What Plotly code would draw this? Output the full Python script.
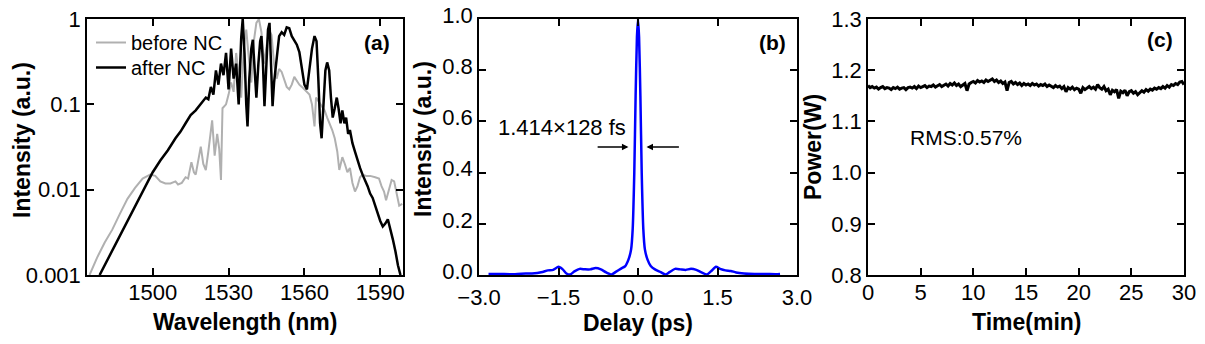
import plotly.graph_objects as go

# ---------------- Panel (a): spectra ----------------
wl_before = [1475, 1478, 1481, 1484, 1487, 1490, 1493, 1496, 1499, 1501, 1503, 1505, 1507, 1509,
             1510, 1511.5, 1513, 1514, 1515.3, 1516.3, 1517, 1518, 1519, 1520, 1521, 1522, 1523.5,
             1524.5, 1525.5, 1526.3, 1527, 1527.6, 1529, 1530, 1531, 1532, 1533, 1534, 1535, 1536,
             1537, 1538, 1539, 1540, 1541, 1542, 1543, 1544, 1545, 1546, 1547, 1548, 1549, 1550,
             1551, 1552, 1553, 1554, 1555, 1556, 1557, 1558, 1559, 1560, 1561, 1562, 1563, 1564,
             1564.6, 1565.5, 1567, 1568, 1569, 1570, 1571, 1572, 1573, 1573.8, 1575, 1576, 1577,
             1578, 1579, 1580, 1581, 1582, 1583, 1584.5, 1586, 1588, 1589.5, 1590.5, 1591.5, 1592.3,
             1593.5, 1594.5, 1595.5, 1596.5, 1597.5, 1598.7]
int_before = [0.001, 0.0016, 0.0024, 0.0034, 0.0052, 0.0078, 0.0105, 0.0135, 0.015, 0.0145, 0.0125,
              0.0118, 0.0118, 0.0125, 0.0115, 0.012, 0.014, 0.0135, 0.021, 0.016, 0.015, 0.022, 0.032,
              0.020, 0.017, 0.028, 0.065, 0.025, 0.045, 0.030, 0.013, 0.09, 0.10, 0.13, 0.18, 0.14,
              0.40, 0.22, 0.12, 0.45, 0.75, 0.35, 0.18, 0.55, 0.90, 1.0, 0.70, 0.30, 0.45, 0.75, 0.65,
              0.30, 0.20, 0.26, 0.24, 0.19, 0.16, 0.15, 0.17, 0.21, 0.19, 0.17, 0.16, 0.15, 0.14, 0.13,
              0.10, 0.055, 0.12, 0.11, 0.095, 0.085, 0.07, 0.06, 0.05, 0.04, 0.028, 0.017, 0.024,
              0.020, 0.016, 0.018, 0.012, 0.0095, 0.011, 0.014, 0.015, 0.0145, 0.0145, 0.014, 0.0135,
              0.011, 0.0095, 0.0075, 0.010, 0.013, 0.0125, 0.009, 0.0065, 0.0068]

wl_after = [1479, 1482, 1486, 1490, 1494, 1498, 1500, 1503, 1506, 1509, 1511, 1513, 1515, 1517,
            1519, 1521, 1522, 1523, 1524, 1525, 1526, 1527, 1528, 1529, 1530, 1531, 1532, 1533,
            1534, 1535, 1535.6, 1536.3, 1537, 1537.5, 1538.2, 1539, 1539.6, 1540.3, 1541, 1541.8,
            1542.5, 1543, 1543.6, 1544.2, 1545, 1545.6, 1546.2, 1546.8, 1547.4, 1548, 1549, 1550,
            1551, 1552, 1553, 1554, 1555, 1556, 1557, 1558, 1559, 1560, 1561, 1562, 1563, 1564,
            1564.8, 1565.5, 1566.2, 1566.8, 1567.5, 1568.3, 1569, 1569.8, 1570.5, 1571.2, 1572,
            1572.8, 1573.5, 1574.3, 1575, 1575.8, 1576.5, 1577.3, 1578, 1579, 1580, 1581, 1582,
            1583, 1584, 1585, 1586, 1587, 1588, 1589, 1590, 1591, 1592, 1593, 1594, 1595, 1596,
            1597, 1598]
int_after = [0.001, 0.00148, 0.0026, 0.0043, 0.0072, 0.0125, 0.016, 0.022, 0.029, 0.040, 0.048,
             0.060, 0.075, 0.085, 0.10, 0.12, 0.115, 0.16, 0.13, 0.25, 0.17, 0.30, 0.22, 0.40, 0.15,
             0.45, 0.20, 0.30, 0.10, 0.60, 1.0, 0.40, 0.10, 0.055, 0.20, 0.45, 0.57, 0.25, 0.12,
             0.30, 0.55, 0.63, 0.30, 0.095, 0.35, 0.75, 0.90, 0.35, 0.095, 0.18, 0.36, 0.63, 0.70,
             0.65, 0.80, 0.78, 0.63, 0.55, 0.50, 0.41, 0.25, 0.17, 0.15, 0.25, 0.45, 0.63, 0.55,
             0.20, 0.06, 0.04, 0.10, 0.25, 0.31, 0.25, 0.12, 0.07, 0.09, 0.12, 0.09, 0.06, 0.085,
             0.06, 0.07, 0.045, 0.05, 0.035, 0.028, 0.022, 0.018, 0.015, 0.013, 0.011, 0.009, 0.008,
             0.0065, 0.0052, 0.0043, 0.0037, 0.0040, 0.0045, 0.0035, 0.0026, 0.0019, 0.0013, 0.001]

# ---------------- Panel (b): autocorrelation ----------------
delay_ps = [-2.82, -2.6, -2.4, -2.2, -2.0, -1.9, -1.8, -1.7, -1.6, -1.5, -1.42, -1.35, -1.28, -1.2,
            -1.1, -1.0, -0.9, -0.8, -0.7, -0.6, -0.5, -0.42, -0.32, -0.24, -0.18, -0.13, -0.10,
            -0.07, -0.045, -0.02, 0.0, 0.02, 0.045, 0.07, 0.10, 0.13, 0.18, 0.24, 0.32, 0.42, 0.52,
            0.6, 0.7, 0.8, 0.9, 1.0, 1.1, 1.2, 1.3, 1.38, 1.47, 1.55, 1.65, 1.75, 1.85, 2.0, 2.2,
            2.4, 2.6, 2.68]
ac_int = [0.004, 0.004, 0.003, 0.005, 0.006, 0.008, 0.012, 0.018, 0.02, 0.032, 0.022, 0.006, 0.002,
          0.014, 0.024, 0.022, 0.022, 0.027, 0.022, 0.01, 0.002, 0.012, 0.025, 0.035, 0.06, 0.10,
          0.18, 0.40, 0.70, 0.93, 1.0, 0.93, 0.70, 0.40, 0.18, 0.10, 0.06, 0.035, 0.022, 0.012,
          0.002, 0.012, 0.024, 0.022, 0.02, 0.024, 0.02, 0.01, 0.002, 0.015, 0.032, 0.024, 0.018,
          0.016, 0.01, 0.006, 0.004, 0.004, 0.003, 0.004]

# ---------------- Panel (c): power stability ----------------
power_w = [1.170, 1.166, 1.168, 1.165, 1.167, 1.163, 1.166, 1.168, 1.164, 1.166,
           1.165, 1.162, 1.166, 1.164, 1.167, 1.163, 1.165, 1.166, 1.162, 1.166,
           1.167, 1.165, 1.168, 1.164, 1.169, 1.166, 1.168, 1.170, 1.166, 1.169,
           1.168, 1.171, 1.167, 1.170, 1.172, 1.168, 1.171, 1.173, 1.169, 1.174,
           1.171, 1.175, 1.170, 1.173, 1.168, 1.172, 1.174, 1.160, 1.173, 1.176,
           1.178, 1.175, 1.180, 1.177, 1.179, 1.176, 1.181, 1.178, 1.180, 1.183,
           1.178, 1.181, 1.176, 1.179, 1.174, 1.177, 1.160, 1.176, 1.178, 1.173,
           1.176, 1.172, 1.175, 1.170, 1.174, 1.171, 1.173, 1.170, 1.174, 1.171,
           1.173, 1.169, 1.172, 1.170, 1.173, 1.168, 1.171, 1.169, 1.166, 1.170,
           1.167, 1.169, 1.164, 1.168, 1.158, 1.166, 1.163, 1.167, 1.162, 1.165,
           1.163, 1.155, 1.166, 1.162, 1.165, 1.168, 1.164, 1.167, 1.163, 1.172,
           1.166, 1.163, 1.168, 1.160, 1.163, 1.152, 1.161, 1.158, 1.162, 1.145,
           1.159, 1.156, 1.161, 1.150, 1.158, 1.160, 1.155, 1.158, 1.152, 1.157,
           1.160, 1.157, 1.162, 1.159, 1.163, 1.161, 1.165, 1.163, 1.166, 1.164,
           1.168, 1.165, 1.170, 1.167, 1.172, 1.170, 1.174, 1.172, 1.177, 1.178,
           1.172]
time_min = [round(i * 0.2, 1) for i in range(len(power_w))]

# tick definitions
a_xticks = [1500, 1530, 1560, 1590]
a_yticks = [0.001, 0.01, 0.1, 1]
a_yticktext = ["0.001", "0.01", "0.1", "1"]
b_xticks = [-3.0, -1.5, 0.0, 1.5, 3.0]
b_yticks = [0.0, 0.2, 0.4, 0.6, 0.8, 1.0]
c_xticks = [0, 5, 10, 15, 20, 25, 30]
c_yticks = [0.8, 0.9, 1.0, 1.1, 1.2, 1.3]

FONT = "Liberation Sans, Arial, sans-serif"
TICKFONT = dict(family=FONT, size=22, color="black")

fig = go.Figure()
fig.add_trace(go.Scatter(x=wl_before, y=int_before, mode="lines", name="before NC",
                         line=dict(color="#b0b0b0", width=2), xaxis="x", yaxis="y",
                         legend="legend"))
fig.add_trace(go.Scatter(x=wl_after, y=int_after, mode="lines", name="after NC",
                         line=dict(color="black", width=2.5), xaxis="x", yaxis="y",
                         legend="legend2"))
fig.add_trace(go.Scatter(x=delay_ps, y=ac_int, mode="lines", showlegend=False,
                         line=dict(color="#0000ff", width=2.5, shape="spline", smoothing=0.6),
                         xaxis="x2", yaxis="y2"))
fig.add_trace(go.Scatter(x=time_min, y=power_w, mode="lines", showlegend=False,
                         line=dict(color="black", width=3), xaxis="x3", yaxis="y3"))

ydom = [1 - 275 / 344, 1 - 19 / 344]
common = dict(showline=True, linecolor="black", linewidth=1.5, mirror="ticks", ticks="inside",
              ticklen=7, tickwidth=1.5, tickcolor="black", showgrid=False, zeroline=False,
              tickfont=TICKFONT, automargin=False)
LEGFONT = dict(family=FONT, size=20, color="black")

fig.update_layout(
    width=1205, height=344,
    margin=dict(l=0, r=0, t=0, b=0),
    paper_bgcolor="white", plot_bgcolor="white",
    font=dict(family=FONT, color="black"),
    xaxis=dict(domain=[87 / 1205, 403 / 1205], range=[1474, 1599], tickvals=a_xticks,
               anchor="y", ticklabelstandoff=-3, **common),
    yaxis=dict(domain=ydom, type="log", range=[-3, 0], tickvals=a_yticks, ticktext=a_yticktext,
               anchor="x", **common),
    xaxis2=dict(domain=[479 / 1205, 797 / 1205], range=[-3, 3], tickvals=b_xticks,
                tickformat=".1f", anchor="y2", ticklabelstandoff=2, **common),
    yaxis2=dict(domain=ydom, range=[0, 1], tickvals=b_yticks, tickformat=".1f", anchor="x2",
                ticklabelshift=-4, **common),
    xaxis3=dict(domain=[868 / 1205, 1184 / 1205], range=[0, 30], tickvals=c_xticks,
                anchor="y3", ticklabelstandoff=-3, **common),
    yaxis3=dict(domain=ydom, range=[0.8, 1.3], tickvals=c_yticks, tickformat=".1f",
                anchor="x3", **common),
    legend=dict(x=91 / 1205, y=1 - 23 / 344, xanchor="left", yanchor="top",
                bgcolor="rgba(0,0,0,0)", font=LEGFONT),
    legend2=dict(x=91 / 1205, y=1 - 48 / 344, xanchor="left", yanchor="top",
                 bgcolor="rgba(0,0,0,0)", font=LEGFONT),
)

BOLD = dict(family=FONT, size=23, color="black")
PANEL = dict(family=FONT, size=21, color="black")
annots = [
    dict(text="<b>Wavelength (nm)</b>", x=245 / 1205, y=1 - 322 / 344, font=BOLD),
    dict(text="<b>Delay (ps)</b>", x=638 / 1205, y=1 - 323 / 344, font=BOLD),
    dict(text="<b>Time(min)</b>", x=1026 / 1205, y=1 - 322 / 344, font=BOLD),
    dict(text="<b>Intensity (a.u.)</b>", x=22 / 1205, y=1 - 140 / 344, textangle=-90, font=BOLD),
    dict(text="<b>Intensity (a.u.)</b>", x=423 / 1205, y=1 - 139 / 344, textangle=-90, font=BOLD),
    dict(text="<b>Power(W)</b>", x=813 / 1205, y=1 - 147 / 344, textangle=-90, font=BOLD),
    dict(text="<b>(a)</b>", x=377 / 1205, y=1 - 42 / 344, font=PANEL),
    dict(text="<b>(b)</b>", x=772 / 1205, y=1 - 42 / 344, font=PANEL),
    dict(text="<b>(c)</b>", x=1160 / 1205, y=1 - 40 / 344, font=PANEL),
]
for a in annots:
    fig.add_annotation(xref="paper", yref="paper", showarrow=False,
                       xanchor="center", yanchor="middle", **a)

fig.add_annotation(xref="x2", yref="y2", x=-1.43, y=0.576, text="1.414×128 fs", showarrow=False,
                   font=dict(family=FONT, size=22, color="black"))
fig.add_annotation(xref="x2", yref="y2", x=-0.18, y=0.50, ax=-0.79, ay=0.50, axref="x2", ayref="y2",
                   text="", showarrow=True, arrowhead=2, arrowsize=1, arrowwidth=1.3,
                   arrowcolor="black")
fig.add_annotation(xref="x2", yref="y2", x=0.16, y=0.50, ax=0.80, ay=0.50, axref="x2", ayref="y2",
                   text="", showarrow=True, arrowhead=2, arrowsize=1, arrowwidth=1.3,
                   arrowcolor="black")
fig.add_annotation(xref="x3", yref="y3", x=9.3, y=1.068, text="RMS:0.57%", showarrow=False,
                   font=dict(family=FONT, size=21, color="black"))

fig.write_html("out.html")
